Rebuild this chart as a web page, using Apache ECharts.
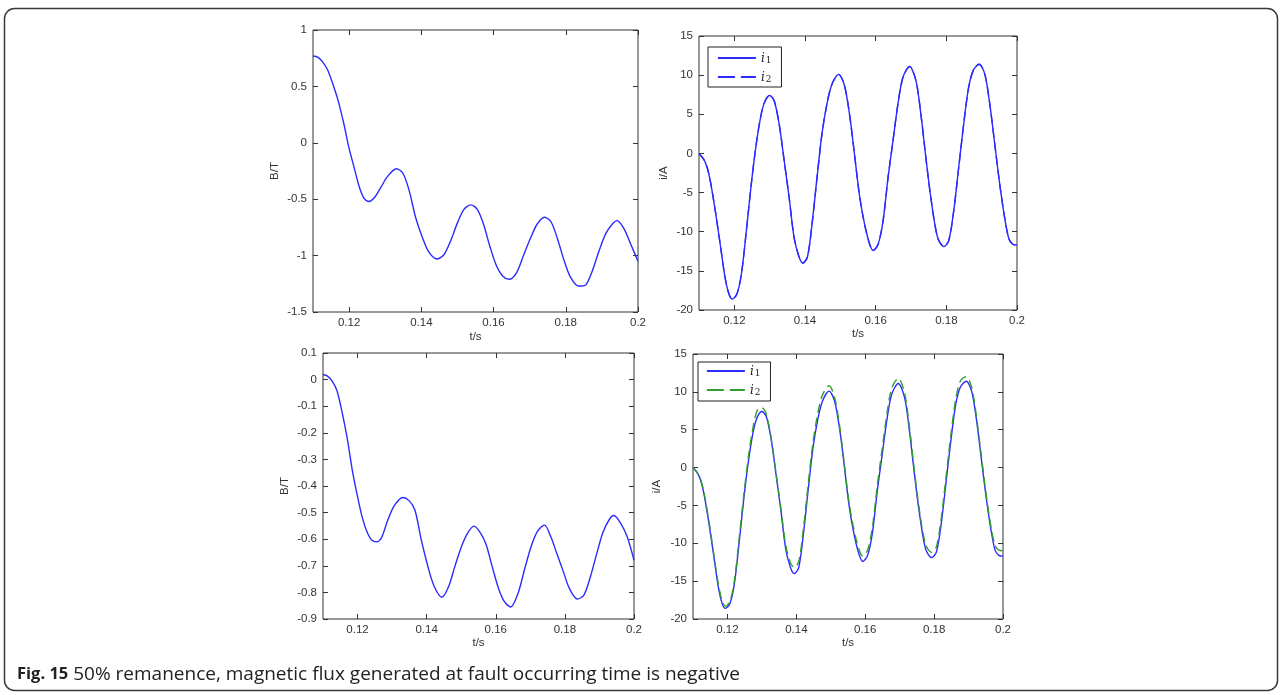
<!DOCTYPE html>
<html>
<head>
<meta charset="utf-8">
<script src="https://cdn.jsdelivr.net/npm/echarts@6/dist/echarts.min.js"></script>
<style>
html,body{margin:0;padding:0;background:#fff;}
#c{width:1282px;height:695px;}
</style>
</head>
<body>
<div id="c"></div>
<script>
// ---- data ----
const xTicks = [0.12, 0.14, 0.16, 0.18, 0.2];

// time stamps (s) for the flux curves
const tB = [0.110,0.1113,0.1126,0.114,0.1154,0.117,0.1186,0.120,0.1214,0.1228,0.1241,0.1255,0.1269,0.1287,0.1306,0.1331,0.1349,0.1366,0.1384,0.1403,0.1421,0.1444,0.1463,0.1481,0.150,0.1518,0.1537,0.1555,0.1572,0.159,0.1608,0.1625,0.1643,0.1664,0.1684,0.1703,0.1721,0.1741,0.1759,0.1777,0.1795,0.1813,0.1836,0.1855,0.1873,0.1892,0.191,0.1929,0.1942,0.1961,0.198,0.200];
// top-left flux B/T
const bTop = [0.77,0.76,0.72,0.65,0.53,0.37,0.16,-0.05,-0.22,-0.39,-0.49,-0.52,-0.49,-0.40,-0.30,-0.23,-0.27,-0.42,-0.66,-0.84,-0.97,-1.03,-0.99,-0.87,-0.71,-0.59,-0.55,-0.59,-0.72,-0.92,-1.09,-1.18,-1.21,-1.15,-0.99,-0.84,-0.72,-0.66,-0.70,-0.85,-1.04,-1.19,-1.27,-1.26,-1.14,-0.96,-0.81,-0.72,-0.69,-0.76,-0.90,-1.05];
// bottom-left flux B/T
const bBottom = [0.019,0.013,-0.005,-0.04,-0.115,-0.22,-0.35,-0.44,-0.52,-0.575,-0.603,-0.61,-0.595,-0.53,-0.475,-0.443,-0.455,-0.49,-0.60,-0.70,-0.775,-0.818,-0.78,-0.705,-0.63,-0.578,-0.551,-0.575,-0.62,-0.705,-0.785,-0.835,-0.855,-0.805,-0.71,-0.625,-0.57,-0.547,-0.59,-0.655,-0.72,-0.785,-0.825,-0.81,-0.745,-0.655,-0.575,-0.525,-0.511,-0.54,-0.59,-0.679];

// time stamps (s) for the current curves
const tI = [0.110,0.1114,0.1123,0.1132,0.1146,0.116,0.1174,0.1185,0.1194,0.1207,0.122,0.1234,0.1248,0.1262,0.1276,0.1287,0.130,0.1313,0.1327,0.1341,0.1355,0.1369,0.1383,0.1394,0.1407,0.142,0.1434,0.1448,0.1462,0.1476,0.1495,0.1511,0.1526,0.1539,0.1555,0.1575,0.1593,0.1607,0.1621,0.1635,0.1649,0.1663,0.1677,0.1696,0.1714,0.1728,0.1742,0.1756,0.1775,0.1793,0.1807,0.1821,0.1835,0.1849,0.1863,0.1877,0.1893,0.1909,0.1923,0.1937,0.1951,0.1965,0.1977,0.1988,0.200];
// i1 (A), same in both current plots
const i1 = [0,-0.8,-1.8,-3.5,-7.3,-11.6,-15.9,-18.0,-18.6,-18.0,-15.4,-9.9,-3.9,1.2,5.0,6.7,7.4,6.7,3.7,-0.9,-5.6,-10.7,-13.2,-14.0,-13.2,-9.0,-3.1,2.5,6.3,8.8,10.1,8.8,5.0,0.3,-5.6,-10.3,-12.4,-11.6,-8.6,-3.1,1.6,6.3,9.7,11.1,9.3,5.0,-0.5,-5.6,-10.7,-11.9,-11.1,-7.3,-1.8,3.7,8.4,10.7,11.4,10.1,6.3,1.2,-3.9,-8.2,-10.9,-11.6,-11.7];
// i2 (A), top-right plot: lies on top of i1
const i2Top = [0,-0.8,-1.8,-3.5,-7.3,-11.6,-15.9,-18.0,-18.6,-18.0,-15.4,-9.9,-3.9,1.2,5.0,6.7,7.4,6.7,3.7,-0.9,-5.6,-10.7,-13.2,-14.0,-13.2,-9.0,-3.1,2.5,6.3,8.8,10.1,8.8,5.0,0.3,-5.6,-10.3,-12.4,-11.6,-8.6,-3.1,1.6,6.3,9.7,11.1,9.3,5.0,-0.5,-5.6,-10.7,-11.9,-11.1,-7.3,-1.8,3.7,8.4,10.7,11.4,10.1,6.3,1.2,-3.9,-8.2,-10.9,-11.6,-11.7];
// i2 (A), bottom-right plot
const i2Bottom = [0,-0.8,-1.7,-3.3,-7.0,-11.3,-15.5,-17.7,-18.3,-17.7,-15.0,-9.4,-3.4,1.8,5.7,7.6,7.9,7.0,3.9,-0.7,-5.3,-10.2,-12.6,-13.2,-12.4,-8.3,-2.4,3.2,7.1,9.6,10.8,9.3,5.4,0.6,-5.2,-9.7,-11.7,-10.9,-7.8,-2.4,2.4,7.1,10.5,11.8,9.9,5.5,-0.1,-5.2,-10.1,-11.2,-10.4,-6.6,-1.1,4.4,9.1,11.5,12.0,10.6,6.7,1.6,-3.5,-7.8,-10.3,-10.9,-11.0];

const caption = '{b|Fig. 15} 50% remanence, magnetic flux generated at fault occurring time is negative';

// ---- chart ----
const pairs = (ts, vs) => ts.map((t, k) => [t, vs[k]]);
const AX = '#333';
const LBL = '#333';
const FONT = 'Liberation Sans, Arial, sans-serif';

const grids = [
  {left: 313, top: 30, width: 325, height: 282},
  {left: 699, top: 36, width: 318, height: 274},
  {left: 323, top: 353, width: 311, height: 266},
  {left: 693, top: 354, width: 310, height: 265}
];
const yCfg = [
  {min: -1.5, max: 1, interval: 0.5, name: 'B/T', gap: 32},
  {min: -20, max: 15, interval: 5, name: 'i/A', gap: 29},
  {min: -0.9, max: 0.1, interval: 0.1, name: 'B/T', gap: 32},
  {min: -20, max: 15, interval: 5, name: 'i/A', gap: 30}
];
const xGap = [19, 17, 18, 18];

const xAxes = [], yAxes = [];
grids.forEach((g, i) => {
  xAxes.push({
    type: 'value', gridIndex: i, min: 0.11, max: 0.2, position: 'bottom',
    name: 't/s', nameLocation: 'middle', nameGap: xGap[i],
    nameTextStyle: {color: LBL, fontSize: 11.5, fontFamily: FONT},
    axisLine: {show: false, onZero: false},
    axisTick: {show: true, inside: true, length: 5, customValues: xTicks, lineStyle: {color: AX}},
    axisLabel: {show: true, customValues: xTicks, color: LBL, fontSize: 11.5, fontFamily: FONT, margin: 5},
    splitLine: {show: false}
  });
  xAxes.push({
    type: 'value', gridIndex: i, min: 0.11, max: 0.2, position: 'top',
    axisLine: {show: false, onZero: false},
    axisTick: {show: true, inside: true, length: 5, customValues: xTicks, lineStyle: {color: AX}},
    axisLabel: {show: false}, splitLine: {show: false}
  });
  const y = yCfg[i];
  yAxes.push({
    type: 'value', gridIndex: i, min: y.min, max: y.max, interval: y.interval, position: 'left',
    name: y.name, nameLocation: 'middle', nameGap: y.gap,
    nameTextStyle: {color: LBL, fontSize: 11.5, fontFamily: FONT},
    axisLine: {show: false, onZero: false},
    axisTick: {show: true, inside: true, length: 5, lineStyle: {color: AX}},
    axisLabel: {color: LBL, fontSize: 11.5, fontFamily: FONT, margin: 6},
    splitLine: {show: false}
  });
  yAxes.push({
    type: 'value', gridIndex: i, min: y.min, max: y.max, interval: y.interval, position: 'right',
    axisLine: {show: false, onZero: false},
    axisTick: {show: true, inside: true, length: 5, lineStyle: {color: AX}},
    axisLabel: {show: false}, splitLine: {show: false}
  });
});

const BLUE = '#2b2bff';
const GREEN = '#2f9e2f';
const lineS = (name, gi, data, color, type, z) => ({
  type: 'line', name: name, xAxisIndex: gi * 2, yAxisIndex: gi * 2, data: data,
  symbol: 'none', smooth: 0.3, z: z, silent: true,
  lineStyle: {color: color, width: 1.4, type: type},
  itemStyle: {color: color}
});

const legendBase = {
  orient: 'vertical', itemWidth: 38, itemHeight: 10, itemGap: 7,
  backgroundColor: '#fff', borderColor: '#222', borderWidth: 1, borderRadius: 0,
  formatter: n => '{i|i}{s|' + (n.indexOf('₁') >= 0 ? '1' : '2') + '}',
  textStyle: {
    fontFamily: 'DejaVu Serif, serif', fontSize: 12, color: '#222',
    rich: {
      i: {fontFamily: 'DejaVu Serif, serif', fontStyle: 'italic', fontSize: 12, color: '#222', verticalAlign: 'bottom'},
      s: {fontFamily: 'DejaVu Serif, serif', fontStyle: 'normal', fontSize: 9, color: '#222', verticalAlign: 'bottom', padding: [5, 0, 0, 1]}
    }
  },
  itemStyle: {opacity: 0},
  lineStyle: {width: 1.8},
  selectedMode: false
};

const option = {
  animation: false,
  backgroundColor: '#fff',
  title: {
    text: caption, left: 12, top: 660,
    textStyle: {
      fontFamily: 'Open Sans', fontSize: 19, fontWeight: 'normal', color: '#222',
      rich: {b: {fontFamily: 'Open Sans', fontSize: 16.5, fontWeight: 'bold', color: '#222'}}
    }
  },
  graphic: [{
    type: 'rect', silent: true, z: -10,
    shape: {x: 4.5, y: 8.5, width: 1273, height: 682, r: 10},
    style: {fill: null, stroke: '#3a3a3a', lineWidth: 1.5}
  }],
  grid: grids.map(g => Object.assign({show: true, borderColor: AX, borderWidth: 1, backgroundColor: '#fff', containLabel: false}, g)),
  xAxis: xAxes,
  yAxis: yAxes,
  legend: [
    Object.assign({}, legendBase, {
      left: 708, top: 47, padding: [6, 10, 3, 9],
      data: [{name: 'i₁'}, {name: 'i₂', lineStyle: {type: [17, 6]}}]
    }),
    Object.assign({}, legendBase, {
      left: 698, top: 362, padding: [4, 10, 4, 8],
      data: [{name: 'i₁ '}, {name: 'i₂ ', lineStyle: {type: [17, 6]}}]
    })
  ],
  series: [
    lineS('B1', 0, pairs(tB, bTop), BLUE, 'solid', 2),
    lineS('i₁', 1, pairs(tI, i1), BLUE, 'solid', 2),
    lineS('i₂', 1, pairs(tI, i2Top), BLUE, [9, 5], 3),
    lineS('B2', 2, pairs(tB, bBottom), BLUE, 'solid', 2),
    lineS('i₁ ', 3, pairs(tI, i1), BLUE, 'solid', 2),
    lineS('i₂ ', 3, pairs(tI, i2Bottom), GREEN, [9, 5], 3)
  ]
};

const chart = echarts.init(document.getElementById('c'), null, {renderer: 'canvas'});
chart.setOption(option);
</script>
</body>
</html>
